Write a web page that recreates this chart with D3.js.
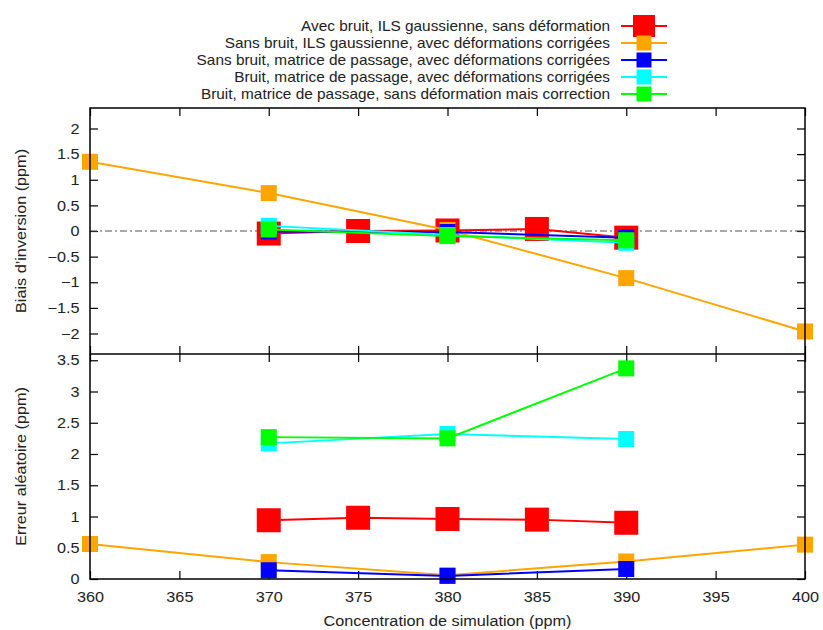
<!DOCTYPE html>
<html><head><meta charset="utf-8">
<script src="https://cdn.jsdelivr.net/npm/d3@7"></script>
<style>body{margin:0;background:#fff}svg{display:block}text{font-family:"Liberation Sans",Arial,sans-serif;fill:#222}</style>
</head><body><svg id="c" width="823" height="630"></svg>
<script>
const seriesNames = [
  "Avec bruit, ILS gaussienne, sans déformation",
  "Sans bruit, ILS gaussienne, avec déformations corrigées",
  "Sans bruit, matrice de passage, avec déformations corrigées",
  "Bruit, matrice de passage, avec déformations corrigées",
  "Bruit, matrice de passage, sans déformation mais correction"
];
const seriesColors = ["#ff0000", "#ffa500", "#0000ff", "#00ffff", "#00ff00"];
const seriesX = [
  [370, 375, 380, 385, 390],
  [360, 370, 380, 390, 400],
  [370, 380, 390],
  [370, 380, 390],
  [370, 380, 390]
];
const biasValues = [
  [-0.05, 0.0, 0.01, 0.04, -0.13],
  [1.35, 0.74, 0.02, -0.92, -1.96],
  [-0.01, -0.02, -0.13],
  [0.10, -0.08, -0.23],
  [0.03, -0.10, -0.18]
];
const errorValues = [
  [0.94, 0.98, 0.96, 0.95, 0.90],
  [0.56, 0.27, 0.06, 0.28, 0.55],
  [0.14, 0.05, 0.16],
  [2.17, 2.32, 2.24],
  [2.27, 2.25, 3.37]
];
const xTicks = [360, 365, 370, 375, 380, 385, 390, 395, 400];
const biasTicks = [-2, -1.5, -1, -0.5, 0, 0.5, 1, 1.5, 2];
const errorTicks = [0, 0.5, 1, 1.5, 2, 2.5, 3, 3.5];
const markerSizes = [24, 16, 16, 16, 16];

const svg = d3.select("#c");
const L = 90, R = 805, T = 108, MID = 354, B = 579;
const FS = 14.5, K = 1.12, KL = 1.06;
const x = d3.scaleLinear().domain([360, 400]).range([L, R]);
const yTop = d3.scaleLinear().domain([-2.4, 2.4]).range([MID, T]);
const yBot = d3.scaleLinear().domain([0, 3.6]).range([B, MID]);
const fmt = v => (v < 0 ? "\u2212" : "") + String(Math.abs(v));
const TL = 8;

function stretch(a) {
  a.selectAll("text").each(function() {
    const t = d3.select(this);
    const xx = +t.attr("x") || 0;
    t.attr("x", 0).attr("transform", `translate(${xx},0) scale(${K},1)`)
      .attr("font-size", FS).attr("fill", "#222").attr("font-family", "Liberation Sans, Arial, sans-serif");
  });
}
function styleTicks(a) {
  a.select(".domain").remove();
  a.selectAll("line").attr("stroke", "#000").attr("stroke-width", 1.2);
}

function panel(y, ticks, top, bottom, showX) {
  const g = svg.append("g");
  g.append("g").attr("transform", `translate(${L},0)`)
    .call(d3.axisLeft(y).tickValues(ticks).tickSize(-TL).tickPadding(10.5).tickFormat(fmt))
    .call(styleTicks).call(stretch);
  g.append("g").attr("transform", `translate(${R},0)`)
    .call(d3.axisRight(y).tickValues(ticks).tickSize(-TL).tickFormat(""))
    .call(styleTicks);
  g.append("g").attr("transform", `translate(0,${top})`)
    .call(d3.axisTop(x).tickValues(xTicks).tickSize(-TL).tickFormat(""))
    .call(styleTicks);
  g.append("g").attr("transform", `translate(0,${bottom})`)
    .call(d3.axisBottom(x).tickValues(xTicks).tickSize(-TL).tickPadding(13).tickFormat(showX ? d3.format("d") : ""))
    .call(styleTicks).call(stretch);
}
panel(yTop, biasTicks, T, MID, false);
panel(yBot, errorTicks, MID, B, true);

svg.append("line").attr("x1", L).attr("x2", R).attr("y1", yTop(0)).attr("y2", yTop(0))
  .attr("stroke", "#555").attr("stroke-width", 1.2).attr("stroke-dasharray", "7,3,2,3");

function drawSeries(y, values) {
  values.forEach((vals, i) => {
    const pts = vals.map((v, j) => [seriesX[i][j], v]);
    svg.append("path").datum(pts)
      .attr("d", d3.line().x(d => x(d[0])).y(d => y(d[1])))
      .attr("fill", "none").attr("stroke", seriesColors[i]).attr("stroke-width", 2);
    const s = markerSizes[i];
    svg.append("g").selectAll("rect").data(pts).join("rect")
      .attr("x", d => x(d[0]) - s / 2).attr("y", d => y(d[1]) - s / 2)
      .attr("width", s).attr("height", s).attr("fill", seriesColors[i]);
  });
}
drawSeries(yTop, biasValues);
drawSeries(yBot, errorValues);

svg.append("rect").attr("x", L).attr("y", T).attr("width", R - L).attr("height", B - T)
  .attr("fill", "none").attr("stroke", "#000").attr("stroke-width", 1.5);
svg.append("line").attr("x1", L).attr("x2", R).attr("y1", MID).attr("y2", MID)
  .attr("stroke", "#000").attr("stroke-width", 1.5);

svg.append("text").attr("transform", `translate(26,${(T + MID) / 2}) rotate(-90) scale(${K},1)`)
  .attr("text-anchor", "middle").attr("font-size", FS).text("Biais d\u2019inversion (ppm)");
svg.append("text").attr("transform", `translate(26,${(MID + B) / 2}) rotate(-90) scale(${K},1)`)
  .attr("text-anchor", "middle").attr("font-size", FS).text("Erreur aléatoire (ppm)");
svg.append("text").attr("transform", `translate(${(L + R) / 2},626) scale(${K},1)`)
  .attr("text-anchor", "middle").attr("font-size", FS).text("Concentration de simulation (ppm)");

const lg = svg.append("g");
seriesNames.forEach((n, i) => {
  const yy = 26 + i * 17;
  lg.append("text").attr("transform", `translate(610,${yy}) scale(${KL},1)`).attr("dy", "0.35em")
    .attr("text-anchor", "end").attr("font-size", FS).text(n);
  lg.append("line").attr("x1", 621).attr("x2", 667).attr("y1", yy).attr("y2", yy)
    .attr("stroke", seriesColors[i]).attr("stroke-width", 2);
  const s = i === 0 ? 22 : 15;
  lg.append("rect").attr("x", 644 - s / 2).attr("y", yy - s / 2).attr("width", s).attr("height", s)
    .attr("fill", seriesColors[i]);
});
</script></body></html>
